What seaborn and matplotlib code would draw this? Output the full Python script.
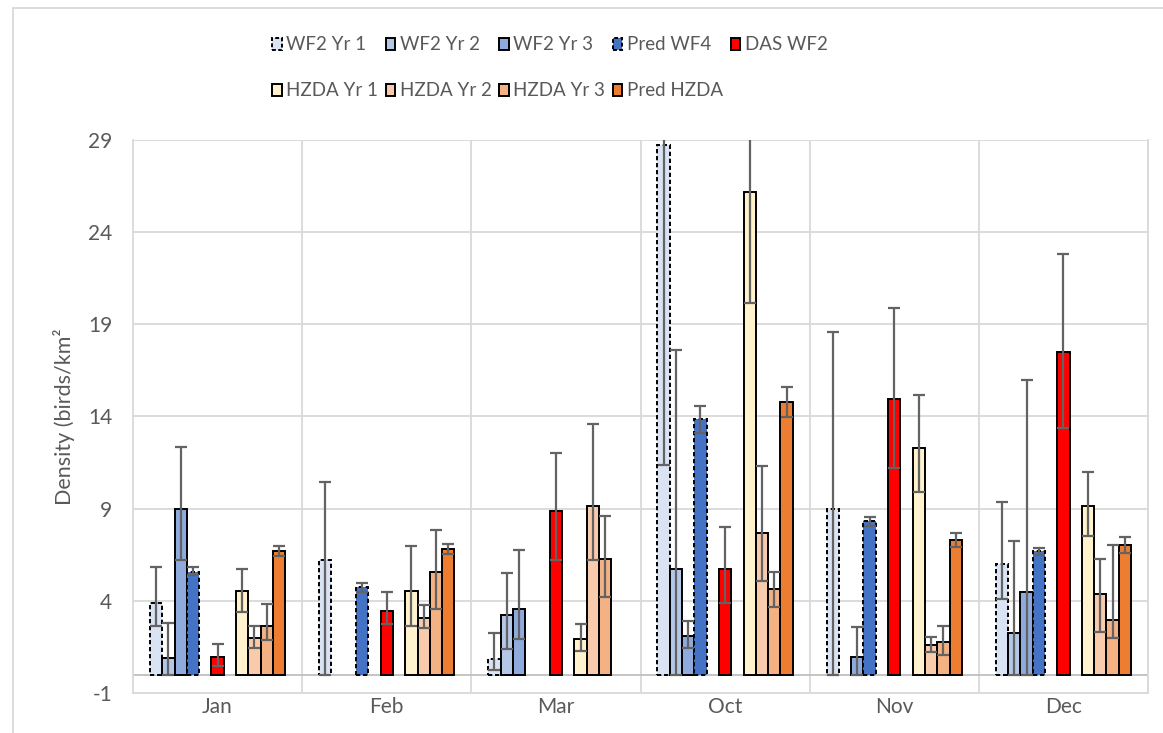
import numpy as np
import pandas as pd
import matplotlib
matplotlib.use("Agg")
import matplotlib.pyplot as plt
from matplotlib.patches import Patch
from matplotlib.lines import Line2D
import seaborn as sns

months = ['Jan', 'Feb', 'Mar', 'Oct', 'Nov', 'Dec']
series_names = ['WF2 Yr 1', 'WF2 Yr 2', 'WF2 Yr 3', 'Pred WF4', 'DAS WF2',
                'HZDA Yr 1', 'HZDA Yr 2', 'HZDA Yr 3', 'Pred HZDA']
series_colors = ['#DAE3F3', '#B4C7E7', '#8FAADC', '#4472C4', '#FF0000',
                 '#FFF2CC', '#F8CBAD', '#F4B183', '#ED7D31']
dashed_series = ['WF2 Yr 1', 'Pred WF4']

# density, lower and upper end of error bar (None = no value that month)
wf2_yr1 = [3.90, 6.20, 0.83, 28.75, 9.00, 5.98]
wf2_yr1_lo = [2.66, 0.0, 0.25, 11.36, 0.0, 4.11]
wf2_yr1_hi = [5.83, 10.47, 2.28, 46.1, 18.59, 9.38]

wf2_yr2 = [0.91, None, 3.21, 5.71, None, 2.28]
wf2_yr2_lo = [0.0, None, 1.39, 0.0, None, 0.0]
wf2_yr2_hi = [2.79, None, 5.49, 17.61, None, 7.25]

wf2_yr3 = [8.97, None, 3.55, 2.08, 0.96, 4.47]
wf2_yr3_lo = [6.20, None, 1.94, 1.45, 0.0, 0.0]
wf2_yr3_hi = [12.34, None, 6.77, 2.92, 2.57, 15.96]

pred_wf4 = [5.56, 4.73, None, 13.84, 8.32, 6.68]
pred_wf4_lo = [5.42, 4.49, None, 13.13, 8.06, 6.49]
pred_wf4_hi = [5.83, 4.98, None, 14.58, 8.55, 6.88]

das_wf2 = [0.96, 3.46, 8.89, 5.74, 14.95, 17.50]
das_wf2_lo = [0.45, 2.73, 6.20, 3.90, 11.20, 13.39]
das_wf2_hi = [1.68, 4.46, 12.01, 7.99, 19.91, 22.81]

hzda_yr1 = [4.51, 4.55, 1.94, 26.16, 12.28, 9.15]
hzda_yr1_lo = [3.41, 2.61, 1.29, 20.14, 9.91, 7.52]
hzda_yr1_hi = [5.74, 6.99, 2.77, 32.2, 15.16, 11.00]

hzda_yr2 = [1.97, 3.08, 9.17, 7.66, 1.59, 4.37]
hzda_yr2_lo = [1.43, 2.50, 6.23, 5.05, 1.25, 2.30]
hzda_yr2_hi = [2.64, 3.75, 13.57, 11.30, 2.05, 6.27]

hzda_yr3 = [2.66, 5.54, 6.27, 4.64, 1.76, 2.95]
hzda_yr3_lo = [1.88, 3.53, 4.20, 3.66, 1.07, 1.97]
hzda_yr3_hi = [3.82, 7.86, 8.59, 5.58, 2.66, 7.05]

pred_hzda = [6.72, 6.81, None, 14.78, 7.30, 7.05]
pred_hzda_lo = [6.45, 6.54, None, 13.99, 6.90, 6.61]
pred_hzda_hi = [6.99, 7.07, None, 15.60, 7.70, 7.48]

values = [wf2_yr1, wf2_yr2, wf2_yr3, pred_wf4, das_wf2,
          hzda_yr1, hzda_yr2, hzda_yr3, pred_hzda]
lows = [wf2_yr1_lo, wf2_yr2_lo, wf2_yr3_lo, pred_wf4_lo, das_wf2_lo,
        hzda_yr1_lo, hzda_yr2_lo, hzda_yr3_lo, pred_hzda_lo]
highs = [wf2_yr1_hi, wf2_yr2_hi, wf2_yr3_hi, pred_wf4_hi, das_wf2_hi,
         hzda_yr1_hi, hzda_yr2_hi, hzda_yr3_hi, pred_hzda_hi]

rows = []
for name, v, lo, hi in zip(series_names, values, lows, highs):
    for m, a, b, c in zip(months, v, lo, hi):
        if a is None:
            continue
        rows.append({'Month': m, 'Series': name, 'Density': a, 'lo': b, 'hi': c})
df = pd.DataFrame(rows)

# empty slots between the survey groups, like the original chart
hue_order = series_names[:4] + [' '] + [series_names[4]] + ['  '] + series_names[5:]
palette = dict(zip(series_names, series_colors))
palette[' '] = 'white'
palette['  '] = 'white'

sns.set_style('white')
plt.rcParams['font.family'] = ['Lato', 'DejaVu Sans']
plt.rcParams['axes.unicode_minus'] = False
txt = '#595959'
grid_c = '#D9D9D9'

fig = plt.figure(figsize=(11.63, 7.33), dpi=100)
ax = fig.add_axes([133/1163, 1 - 693/733, 1015/1163, 553/733])

sns.barplot(data=df, x='Month', y='Density', hue='Series', order=months,
            hue_order=hue_order, palette=palette, saturation=1, errorbar=None,
            width=0.8, edgecolor='black', linewidth=1.4, legend=False, ax=ax,
            zorder=3)

slot = 0.8 / len(hue_order)
for p in ax.patches:
    cx = p.get_x() + p.get_width() / 2
    mi = int(round(cx))
    si = int(round((cx - mi + 0.4) / slot - 0.5))
    name = hue_order[si]
    r = df[(df['Month'] == months[mi]) & (df['Series'] == name)].iloc[0]
    if name in dashed_series:
        p.set_linestyle((0, (2.2, 1.4)))
    v = r['Density']
    ax.errorbar(cx, v, yerr=[[v - r['lo']], [r['hi'] - v]], fmt='none',
                ecolor='#636363', elinewidth=1.6, capsize=4.3, capthick=1.6,
                zorder=5)

ax.set_ylim(-1, 29)
ax.set_yticks(np.arange(-1, 30, 5))
ax.set_xlim(-0.5, len(months) - 0.5)
ax.set_xticks(np.arange(len(months)) + 0.5, minor=True)
ax.grid(True, axis='y', which='major', color=grid_c, lw=1.3, zorder=0)
ax.grid(True, axis='x', which='minor', color=grid_c, lw=1.3, zorder=0)
ax.axhline(0, color='#BFBFBF', lw=1.3, zorder=2)
ax.tick_params(axis='both', which='both', length=0, labelsize=15, colors=txt)
ax.tick_params(axis='y', pad=15)
ax.tick_params(axis='x', pad=3)
for s in ['left', 'bottom', 'right']:
    ax.spines[s].set_color(grid_c)
    ax.spines[s].set_linewidth(1.3)
ax.spines['top'].set_visible(False)

ax.set_xlabel('')
ax.set_ylabel('Density (birds/km²', fontsize=15.5, color=txt)
ax.yaxis.set_label_coords(-0.057, 0.5)

# legend: row-major order in 5 columns
handles = []
for name, c in zip(series_names, series_colors):
    ls = (0, (2, 1.2)) if name in dashed_series else '-'
    handles.append(Patch(facecolor=c, edgecolor='black', lw=1.4, linestyle=ls, label=name))
order = [0, 5, 1, 6, 2, 7, 3, 8, 4]
fig.legend([handles[i] for i in order], [series_names[i] for i in order],
           ncol=5, loc='upper left', bbox_to_anchor=(263/1163, 1 - 27/733),
           frameon=False, fontsize=13.5, labelcolor=txt, handlelength=0.5,
           handleheight=0.6, handletextpad=0.25, columnspacing=0.4,
           labelspacing=1.55, borderpad=0)

# chart area border
fig.add_artist(Line2D([13/1163, 13/1163], [0, 1 - 8/733], color=grid_c, lw=1.3))
fig.add_artist(Line2D([13/1163, 1], [1 - 8/733, 1 - 8/733], color=grid_c, lw=1.3))

fig.savefig('out.png', dpi=100)
